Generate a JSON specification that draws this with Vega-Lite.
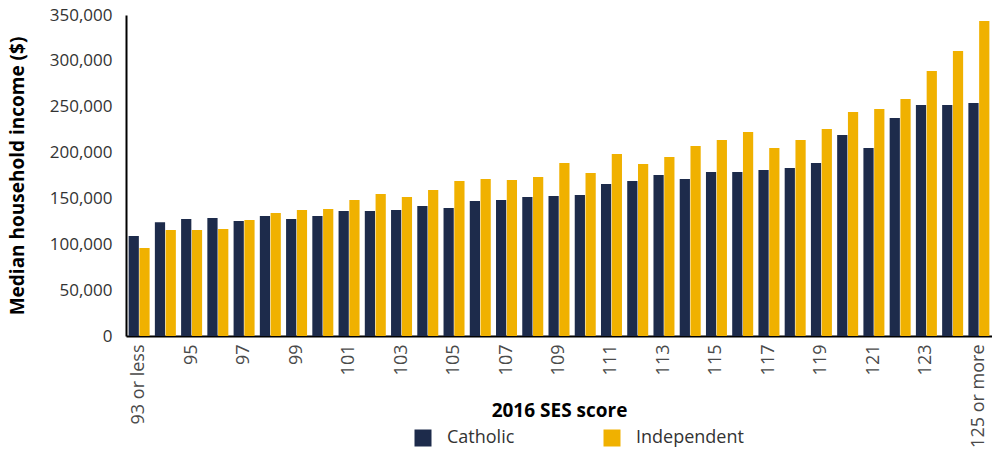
{
  "$schema": "https://vega.github.io/schema/vega-lite/v6.json",
  "width": 866,
  "height": 321,
  "autosize": {"type": "none"},
  "padding": {"left": 126, "top": 15, "right": 0, "bottom": 116},
  "background": "white",
  "config": {
    "font": "Open Sans",
    "view": {"stroke": null},
    "axis": {"grid": false, "ticks": false}
  },
  "data": {
    "values": [
      {"ses": "93 or less", "series": "Catholic", "value": 109000}, {"ses": "93 or less", "series": "Independent", "value": 96000},
      {"ses": "94", "series": "Catholic", "value": 124000}, {"ses": "94", "series": "Independent", "value": 115500},
      {"ses": "95", "series": "Catholic", "value": 127500}, {"ses": "95", "series": "Independent", "value": 115500},
      {"ses": "96", "series": "Catholic", "value": 128700}, {"ses": "96", "series": "Independent", "value": 116700},
      {"ses": "97", "series": "Catholic", "value": 125400}, {"ses": "97", "series": "Independent", "value": 126500},
      {"ses": "98", "series": "Catholic", "value": 130900}, {"ses": "98", "series": "Independent", "value": 134100},
      {"ses": "99", "series": "Catholic", "value": 127600}, {"ses": "99", "series": "Independent", "value": 137400},
      {"ses": "100", "series": "Catholic", "value": 130900}, {"ses": "100", "series": "Independent", "value": 138500},
      {"ses": "101", "series": "Catholic", "value": 136300}, {"ses": "101", "series": "Independent", "value": 148300},
      {"ses": "102", "series": "Catholic", "value": 136300}, {"ses": "102", "series": "Independent", "value": 154900},
      {"ses": "103", "series": "Catholic", "value": 137400}, {"ses": "103", "series": "Independent", "value": 151600},
      {"ses": "104", "series": "Catholic", "value": 141800}, {"ses": "104", "series": "Independent", "value": 159200},
      {"ses": "105", "series": "Catholic", "value": 139600}, {"ses": "105", "series": "Independent", "value": 169000},
      {"ses": "106", "series": "Catholic", "value": 147200}, {"ses": "106", "series": "Independent", "value": 171200},
      {"ses": "107", "series": "Catholic", "value": 148300}, {"ses": "107", "series": "Independent", "value": 170100},
      {"ses": "108", "series": "Catholic", "value": 151600}, {"ses": "108", "series": "Independent", "value": 173400},
      {"ses": "109", "series": "Catholic", "value": 152700}, {"ses": "109", "series": "Independent", "value": 188700},
      {"ses": "110", "series": "Catholic", "value": 153800}, {"ses": "110", "series": "Independent", "value": 177800},
      {"ses": "111", "series": "Catholic", "value": 165800}, {"ses": "111", "series": "Independent", "value": 198500},
      {"ses": "112", "series": "Catholic", "value": 169000}, {"ses": "112", "series": "Independent", "value": 187600},
      {"ses": "113", "series": "Catholic", "value": 175600}, {"ses": "113", "series": "Independent", "value": 195200},
      {"ses": "114", "series": "Catholic", "value": 171200}, {"ses": "114", "series": "Independent", "value": 207200},
      {"ses": "115", "series": "Catholic", "value": 178800}, {"ses": "115", "series": "Independent", "value": 213700},
      {"ses": "116", "series": "Catholic", "value": 178800}, {"ses": "116", "series": "Independent", "value": 222500},
      {"ses": "117", "series": "Catholic", "value": 181000}, {"ses": "117", "series": "Independent", "value": 205000},
      {"ses": "118", "series": "Catholic", "value": 183200}, {"ses": "118", "series": "Independent", "value": 213700},
      {"ses": "119", "series": "Catholic", "value": 188700}, {"ses": "119", "series": "Independent", "value": 225700},
      {"ses": "120", "series": "Catholic", "value": 219200}, {"ses": "120", "series": "Independent", "value": 244300},
      {"ses": "121", "series": "Catholic", "value": 205000}, {"ses": "121", "series": "Independent", "value": 247500},
      {"ses": "122", "series": "Catholic", "value": 237700}, {"ses": "122", "series": "Independent", "value": 258500},
      {"ses": "123", "series": "Catholic", "value": 251900}, {"ses": "123", "series": "Independent", "value": 289000},
      {"ses": "124", "series": "Catholic", "value": 251900}, {"ses": "124", "series": "Independent", "value": 310800},
      {"ses": "125 or more", "series": "Catholic", "value": 254100}, {"ses": "125 or more", "series": "Independent", "value": 343500}
    ]
  },
  "mark": {"type": "bar"},
  "encoding": {
    "x": {
      "field": "ses",
      "type": "nominal",
      "sort": null,
      "scale": {"paddingInner": 0.2, "paddingOuter": 0.1},
      "axis": {
        "title": "2016 SES score",
        "values": ["93 or less", "95", "97", "99", "101", "103", "105", "107", "109", "111", "113", "115", "117", "119", "121", "123", "125 or more"],
        "labelAngle": -90,
        "labelFontSize": 18,
        "labelColor": "#4a4a4a",
        "labelPadding": 8,
        "domainColor": "#000000",
        "domainWidth": 2,
        "titleFontSize": 19,
        "titleFontWeight": "bold",
        "titleColor": "#000000",
        "titleY": 74,
        "titleBaseline": "middle"
      }
    },
    "xOffset": {
      "field": "series",
      "type": "nominal",
      "scale": {"paddingInner": 0.05}
    },
    "y": {
      "field": "value",
      "type": "quantitative",
      "scale": {"domain": [0, 350000], "nice": false},
      "axis": {
        "title": "Median household income ($)",
        "values": [0, 50000, 100000, 150000, 200000, 250000, 300000, 350000],
        "format": ",.0f",
        "labelFontSize": 17,
        "labelColor": "#333333",
        "labelPadding": 14,
        "domainColor": "#000000",
        "domainWidth": 2,
        "titleFontSize": 19,
        "titleFontWeight": "bold",
        "titleColor": "#000000",
        "titlePadding": 22
      }
    },
    "color": {
      "field": "series",
      "type": "nominal",
      "scale": {"domain": ["Catholic", "Independent"], "range": ["#1d2b4b", "#f0b100"]},
      "legend": {
        "title": null,
        "orient": "none",
        "direction": "horizontal",
        "legendX": 288,
        "legendY": 414,
        "symbolType": "square",
        "symbolSize": 289,
        "symbolStrokeWidth": 0,
        "labelFontSize": 18,
        "labelColor": "#333333",
        "labelOffset": 15,
        "columnPadding": 88,
        "padding": 0
      }
    }
  }
}
